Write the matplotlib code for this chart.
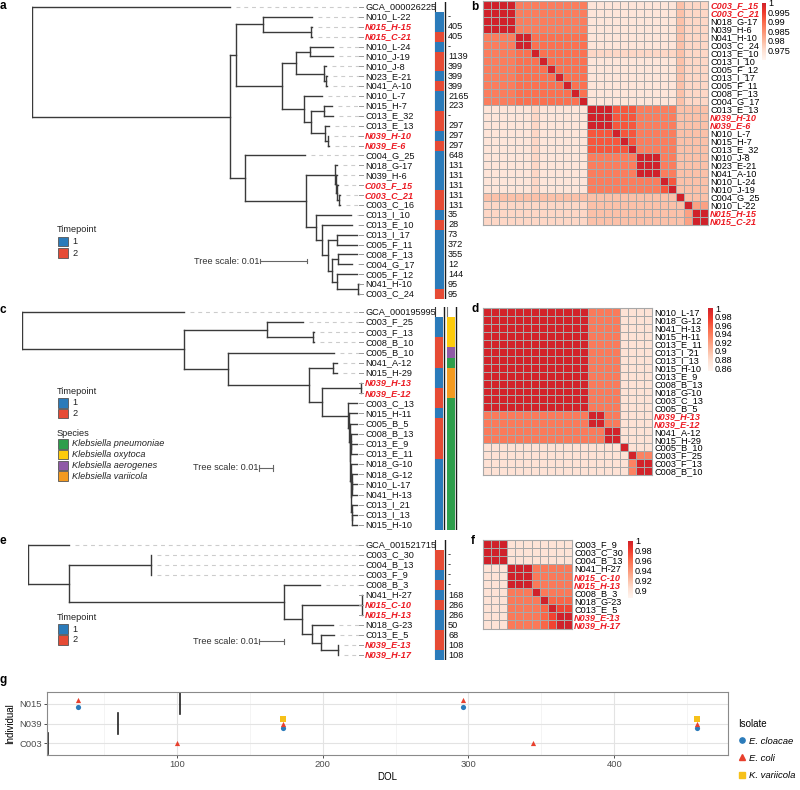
import numpy as np
import matplotlib
matplotlib.use('Agg')
import matplotlib.pyplot as plt
from matplotlib.collections import LineCollection
from matplotlib.colors import LinearSegmentedColormap
from matplotlib.patches import Rectangle
from matplotlib.lines import Line2D
from matplotlib.ticker import FuncFormatter

plt.rcParams['font.family'] = ['Liberation Sans', 'DejaVu Sans']

# ======================= DATA =======================
# Trees (branch lengths in units of 0.001 substitutions/site)
newick_a = ("(GCA_000026225:42.1,(((N010_L-22:10.4,(N015_H-15:0.1,N015_C-21:0.1):10.2):5.7,"
            "(((N010_L-24:4.9,N010_J-19:4.9):3.0,(N010_J-8:0.4,(N023_E-21:0.2,N041_A-10:0.3):0.4):6.0):3.0,"
            "(N010_L-7:3.8,((N015_H-7:1.7,C013_E_32:1.9):2.8,(C013_E_13:0.8,(N039_H-10:0.1,N039_E-6:0.2):0.6):3.0):1.5):4.7):9.6):1.3,"
            "(C004_G_25:12.6,((N018_G-17:0.4,(N039_H-6:0.3,(C003_F_15:0.3,(C003_C_21:0.1,C003_C_16:0.1):0.5):0.2):0.3):6.2,"
            "(C013_I_10:7.4,(C013_E_10:6.4,((C013_I_17:4.3,C005_F_11:4.3):1.9,((C008_F_13:4.0,C004_G_17:3.0):1.3,"
            "(C005_F_12:4.3,(N041_H-10:0.2,C003_C_24:0.2):4.5):1.1):0.9):1.3):1.1):2.3):12.8):3.2):42.2);")
tp_a = [1, 1, 2, 1, 2, 2, 1, 2, 1, 1, 2, 2, 1, 2, 1, 1, 1, 1, 2, 2, 1, 2, 1, 1, 1, 1, 1, 1, 2]
num_a = ['-', '405', '405', '-', '1139', '399', '399', '399', '2165', '223', '-', '297', '297', '297',
         '648', '131', '131', '131', '131', '131', '35', '28', '73', '372', '355', '12', '144', '95', '95']
hl_a = ['N015_H-15', 'N015_C-21', 'N039_H-10', 'N039_E-6', 'C003_F_15', 'C003_C_21']

newick_c = ("(GCA_000195995:116,((C003_F_25:26,(C003_F_13:0.5,C008_B_10:0.5):33):59,(C005_B_10:76,"
            "((N041_A-12:3,N015_H-29:3):17,((N039_H-13:0.3,N039_E-12:0.3):28,(C003_C_13:6.4,(N015_H-11:5.7,"
            "(C005_B_5:5.0,((C008_B_13:4.5,(C013_E_9:4.3,C013_E_11:4.3):0.2):0.3,(N018_G-10:4.3,"
            "((N018_G-12:3.6,(N010_L-17:3.5,N041_H-13:3.5):0.1):0.7,(C013_I_21:4.0,(C013_I_13:3.9,N015_H-10:3.9):0.1):0.3)"
            ":0.2):0.3):0.2):0.7):0.7):19):9):58):31):116);")
tp_c = [1, 1, 2, 2, 2, 1, 1, 2, 2, 1, 2, 2, 2, 2, 1, 1, 1, 1, 1, 1, 1]
species_names = ['Klebsiella pneumoniae', 'Klebsiella oxytoca', 'Klebsiella aerogenes', 'Klebsiella variicola']
sp_c = ['Klebsiella oxytoca', 'Klebsiella oxytoca', 'Klebsiella oxytoca', 'Klebsiella aerogenes',
        'Klebsiella pneumoniae', 'Klebsiella variicola', 'Klebsiella variicola', 'Klebsiella variicola'] + \
       ['Klebsiella pneumoniae'] * 13
hl_c = ['N039_H-13', 'N039_E-12']

newick_e = ("(GCA_001521715:16.4,((C003_C_30:0,C004_B_13:0,C003_F_9:0):32.8,(C008_B_3:14.4,"
            "((N041_H-27:0,N015_C-10:0,N015_H-13:0):24,(N018_G-23:8.4,(C013_E_5:5.2,(N039_E-13:0,N039_H-17:0):6.8):3.6):4)"
            ":7.2):86):16.4);")
tp_e = [2, 2, 1, 2, 1, 2, 1, 1, 2, 2, 1]
num_e = ['-', '-', '-', '-', '168', '286', '286', '50', '68', '108', '108']
hl_e = ['N015_C-10', 'N015_H-13', 'N039_E-13', 'N039_H-17']

# Heatmaps (identity matrices, coded by level)
hm_b_labels = ['C003_F_15', 'C003_C_21', 'N018_G-17', 'N039_H-6', 'N041_H-10', 'C003_C_24', 'C013_E_10',
               'C013_I_10', 'C005_F_12', 'C013_I_17', 'C005_F_11', 'C008_F_13', 'C004_G_17', 'C013_E_13',
               'N039_H-10', 'N039_E-6', 'N010_L-7', 'N015_H-7', 'C013_E_32', 'N010_J-8', 'N023_E-21',
               'N041_A-10', 'N010_L-24', 'N010_J-19', 'C004_G_25', 'N010_L-22', 'N015_H-15', 'N015_C-21']
hm_b_levels = {'D': 1.0, 'K': 0.992, 'M': 0.989, 'm': 0.9875, 'h': 0.983, 'p': 0.979, 'r': 0.976, 'l': 0.9735}
hm_b_rows = [
    "DDDD mm m mmmmmm lll l ll lll ll p r rr",
    "DDDD mm m mmmmmm lll l ll lll ll p r rr",
    "DDDD mm m mmmmmm lll l ll lll ll p r rr",
    "DDDD mm m mmmmmm lll l ll lll ll p r rr",
    "mmmm DD M MMMMMM lll l ll lll ll p r rr",
    "mmmm DD M MMMMMM lll l ll lll ll p r rr",
    "mmmm MM D MMMMMM rrr r rr rrr rr p r rr",
    "mmmm MM M DMMMMM lll l ll lll ll p r rr",
    "mmmm MM M MDMMMM lll l ll lll ll p r rr",
    "mmmm MM M MMDMMM lll l ll lll ll p r rr",
    "mmmm MM M MMMDMM lll l ll lll ll p r rr",
    "mmmm MM M MMMMDM lll l ll lll ll p r rr",
    "mmmm MM M MMMMMD lll l ll lll ll p r rr",
    "llll ll r llllll DDD K KK mmm mm p p pp",
    "llll ll r llllll DDD K KK mmm mm p p pp",
    "llll ll r llllll DDD K KK mmm mm p p pp",
    "llll ll r llllll KKK D KK mmm mm p p pp",
    "llll ll r llllll KKK K DK mmm mm p p pp",
    "llll ll r llllll KKK K KD mmm mm p p pp",
    "llll ll r llllll mmm m mm DDD mm p p pp",
    "llll ll r llllll mmm m mm DDD mm p p pp",
    "llll ll r llllll mmm m mm DDD mm p p pp",
    "llll ll r llllll mmm m mm mmm DK p p pp",
    "llll ll r llllll mmm m mm mmm KD p p pp",
    "pppp pp p pppppp ppp p pp ppp pp D p pp",
    "rrrr rr r rrrrrr ppp p pp ppp pp p D hh",
    "rrrr rr r rrrrrr ppp p pp ppp pp p h DD",
    "rrrr rr r rrrrrr ppp p pp ppp pp p h DD",
]
hm_b_range = (0.9697, 1.0)
hm_b_ticks = [0.975, 0.98, 0.985, 0.99, 0.995, 1.0]

hm_d_labels = ['N010_L-17', 'N018_G-12', 'N041_H-13', 'N015_H-11', 'C013_E_11', 'C013_I_21', 'C013_I_13',
               'N015_H-10', 'C013_E_9', 'C008_B_13', 'N018_G-10', 'C003_C_13', 'C005_B_5', 'N039_H-13',
               'N039_E-12', 'N041_A-12', 'N015_H-29', 'C005_B_10', 'C003_F_25', 'C003_F_13', 'C008_B_10']
hm_d_levels = {'D': 0.998, 'm': 0.941, 'h': 0.936, 'l': 0.875}
hm_d_rows = [
    "DDDDDDDDDDDDD mm mm l l ll",
    "DDDDDDDDDDDDD mm mm l l ll",
    "DDDDDDDDDDDDD mm mm l l ll",
    "DDDDDDDDDDDDD mm mm l l ll",
    "DDDDDDDDDDDDD mm mm l l ll",
    "DDDDDDDDDDDDD mm mm l l ll",
    "DDDDDDDDDDDDD mm mm l l ll",
    "DDDDDDDDDDDDD mm mm l l ll",
    "DDDDDDDDDDDDD mm mm l l ll",
    "DDDDDDDDDDDDD mm mm l l ll",
    "DDDDDDDDDDDDD mm mm l l ll",
    "DDDDDDDDDDDDD mm mm l l ll",
    "DDDDDDDDDDDDD mm mm l l ll",
    "mmmmmmmmmmmmm DD mm l l ll",
    "mmmmmmmmmmmmm DD mm l l ll",
    "mmmmmmmmmmmmm mm DD l l ll",
    "mmmmmmmmmmmmm mm DD l l ll",
    "lllllllllllll ll ll D l ll",
    "lllllllllllll ll ll l D hh",
    "lllllllllllll ll ll l h DD",
    "lllllllllllll ll ll l h DD",
]
hm_d_range = (0.853, 1.0)
hm_d_ticks = [0.86, 0.88, 0.9, 0.92, 0.94, 0.96, 0.98, 1.0]

hm_f_labels = ['C003_F_9', 'C003_C_30', 'C004_B_13', 'N041_H-27', 'N015_C-10', 'N015_H-13', 'C008_B_3',
               'N018_G-23', 'C013_E_5', 'N039_E-13', 'N039_H-17']
hm_f_levels = {'D': 1.0, 'J': 0.977, 'K': 0.963, 'm': 0.954, 'l': 0.901}
hm_f_rows = [
    "DDD lll l l l l l",
    "DDD lll l l l l l",
    "DDD lll l l l l l",
    "lll DDD m m m m m",
    "lll DDD m m m m m",
    "lll DDD m m m m m",
    "lll mmm D m m m m",
    "lll mmm m D K K K",
    "lll mmm m K D J J",
    "lll mmm m K J D D",
    "lll mmm m K J D D",
]
hm_f_range = (0.884, 1.0)
hm_f_ticks = [0.9, 0.92, 0.94, 0.96, 0.98, 1.0]

# Panel g
g_individuals = ['C003', 'N039', 'N015']
g_ind = ['N015', 'N015', 'N015', 'N015', 'N039', 'N039', 'N039', 'N039', 'N039', 'N039', 'C003', 'C003']
g_dol = [32, 32, 296, 296, 173, 173, 173, 457, 457, 457, 100, 344]
g_iso = ['E. cloacae', 'E. coli', 'E. cloacae', 'E. coli', 'E. cloacae', 'E. coli', 'K. variicola',
         'E. cloacae', 'E. coli', 'K. variicola', 'E. coli', 'E. coli']
g_line_ind = ['N015', 'N039', 'C003']
g_line_dol = [102, 60, 12]
isolates = ['E. cloacae', 'E. coli', 'K. variicola']

# ======================= STYLE =======================
TP_COLORS = {1: '#2b7bba', 2: '#e64b35'}
SP_COLORS = {'Klebsiella pneumoniae': '#2e9e4c', 'Klebsiella oxytoca': '#fdcb0c',
             'Klebsiella aerogenes': '#8f5aa6', 'Klebsiella variicola': '#f39a20'}
ISO_STYLE = {'E. cloacae': ('o', '#2b7bba'), 'E. coli': ('^', '#e8402d'), 'K. variicola': ('s', '#f6c11a')}
HL_COLOR = '#ec1c24'
REDS = LinearSegmentedColormap.from_list(
    'reds', ['#FFF5F0', '#FEE0D2', '#FCBBA1', '#FC9272', '#FB6A4A', '#EF3B2C', '#D0212A'])
FS = 6.6

W, H = 800, 790
fig = plt.figure(figsize=(W / 100, H / 100), dpi=100)


def px_rect(x0, y0, x1, y1):
    return [x0 / W, 1 - y1 / H, (x1 - x0) / W, (y1 - y0) / H]


# ======================= TREE HELPERS =======================
def parse_newick(s):
    s = ''.join(s.split()).rstrip(';')
    pos = 0

    def node():
        nonlocal pos
        n = {'children': [], 'name': '', 'bl': 0.0}
        if s[pos] == '(':
            pos += 1
            while True:
                n['children'].append(node())
                if s[pos] == ',':
                    pos += 1
                else:
                    pos += 1
                    break
        st = pos
        while pos < len(s) and s[pos] not in ':,()':
            pos += 1
        n['name'] = s[st:pos]
        if pos < len(s) and s[pos] == ':':
            pos += 1
            st = pos
            while pos < len(s) and s[pos] not in ',()':
                pos += 1
            n['bl'] = float(s[st:pos])
        return n
    return node()


def layout(root):
    leaves = []

    def rec(n, x):
        n['x'] = x
        if not n['children']:
            n['y'] = len(leaves)
            leaves.append(n)
        else:
            for c in n['children']:
                rec(c, x + c['bl'])
            n['y'] = (n['children'][0]['y'] + n['children'][-1]['y']) / 2
    rec(root, 0.0)
    return leaves


def tree_segments(root):
    segs = []

    def rec(n):
        if n['children']:
            ys = [c['y'] for c in n['children']]
            segs.append([(n['x'], min(ys)), (n['x'], max(ys))])
            for c in n['children']:
                segs.append([(n['x'], c['y']), (c['x'], c['y'])])
                rec(c)
    rec(root)
    return segs


LABEL_X = 364


def tree_panel(newick, root_px, ppu, y_top, spacing, tps, highlight, numbers=None, species=None,
               scale_y_px=None, scale_x_px=259):
    root = parse_newick(newick)
    leaves = layout(root)
    n = len(leaves)
    y0 = y_top - spacing / 2
    y1 = y_top + (n - 0.5) * spacing
    ax = fig.add_axes(px_rect(root_px, y0, LABEL_X, y1))
    xmax = (LABEL_X - root_px) / ppu
    ax.set_xlim(0, xmax)
    ax.set_ylim(n - 0.5, -0.5)
    ax.axis('off')
    ax.add_collection(LineCollection(tree_segments(root), colors='#3a3a3a', linewidths=1.0,
                                     capstyle='projecting'))
    dash_end = (LABEL_X - 5 - root_px) / ppu
    for lf in leaves:
        xs = lf['x'] + 6 / ppu
        if xs < dash_end:
            ax.plot([xs, dash_end], [lf['y'], lf['y']], color='#cccccc', lw=0.8, dashes=(3.5, 3.5))
        ax.plot([dash_end, (LABEL_X - 0.5 - root_px) / ppu], [lf['y'], lf['y']], color='#999999', lw=0.7)
    # scale bar
    if scale_y_px is not None:
        sy = (scale_y_px - y_top) / spacing
        sx = (scale_x_px - root_px) / ppu
        ax.plot([sx, sx + 10], [sy, sy], color='#666666', lw=0.8)
        ax.plot([sx, sx], [sy - 0.25, sy + 0.25], color='#666666', lw=0.8)
        ax.plot([sx + 10, sx + 10], [sy - 0.25, sy + 0.25], color='#666666', lw=0.8)
        ax.text(sx - 0.3 / ppu, sy, 'Tree scale: 0.01', ha='right', va='center', fontsize=FS, color='#333333')

    an = fig.add_axes(px_rect(LABEL_X, y0, 470, y1))
    an.set_xlim(LABEL_X, 470)
    an.set_ylim(n - 0.5, -0.5)
    an.axis('off')
    for lf in leaves:
        if lf['name'] in highlight:
            an.text(LABEL_X + 1, lf['y'], lf['name'], ha='left', va='center', fontsize=FS,
                    color=HL_COLOR, fontweight='bold', fontstyle='italic')
        else:
            an.text(LABEL_X + 1, lf['y'], lf['name'], ha='left', va='center', fontsize=FS, color='#111111')
    rows = [lf['y'] for lf in leaves[1:]]
    an.barh(rows, 9 if species is None else 8, left=435, height=1.0,
            color=[TP_COLORS[t] for t in tps], linewidth=0)
    an.plot([434.6, 434.6], [-0.5, n - 0.5], color='#333333', lw=0.8, zorder=0)
    if species is None:
        an.plot([444.5, 444.5], [-0.5, n - 0.5], color='#1a1a1a', lw=1.0)
    else:
        an.plot([443.5, 443.5], [-0.5, n - 0.5], color='#1a1a1a', lw=1.0)
        an.barh(rows, 8, left=447, height=1.0, color=[SP_COLORS[s] for s in species], linewidth=0)
        an.plot([446.6, 446.6], [-0.5, n - 0.5], color='#777777', lw=0.8, zorder=0)
        an.plot([455.5, 455.5], [-0.5, n - 0.5], color='#1a1a1a', lw=1.0)
    if numbers is not None:
        for r, t in zip(rows, numbers):
            an.text(448, r, t, ha='left', va='center', fontsize=FS, color='#111111')
    return ax


tree_panel(newick_a, 32, 4.7, 7, 9.9, tp_a, hl_a, numbers=num_a, scale_y_px=261, scale_x_px=260)
tree_panel(newick_c, 22, 1.4, 312, 10.14, tp_c, hl_c, species=sp_c, scale_y_px=468, scale_x_px=259)
tree_panel(newick_e, 28, 2.5, 545, 10.0, tp_e, hl_e, numbers=num_e, scale_y_px=641, scale_x_px=259)


# ======================= HEATMAPS =======================
def heatmap(rect_px, labels, rows, levels, vrange, ticks, highlight, cbar_px):
    mat = np.array([[levels[ch] for ch in r.replace(' ', '')] for r in rows])
    n = len(labels)
    ax = fig.add_axes(px_rect(*rect_px))
    mesh = ax.pcolormesh(mat, cmap=REDS, vmin=vrange[0], vmax=vrange[1],
                         edgecolors='#a8a8a8', linewidth=0.6)
    ax.set_xlim(0, n)
    ax.set_ylim(n, 0)
    ax.set_xticks([])
    ax.set_yticks(np.arange(n) + 0.5)
    ax.set_yticklabels(labels, fontsize=FS)
    ax.yaxis.tick_right()
    ax.tick_params(axis='y', length=0, pad=1.5)
    for tl in ax.get_yticklabels():
        if tl.get_text() in highlight:
            tl.set_color(HL_COLOR)
            tl.set_fontweight('bold')
            tl.set_fontstyle('italic')
    for sp in ax.spines.values():
        sp.set_color('#a8a8a8')
        sp.set_linewidth(0.8)
    cax = fig.add_axes(px_rect(*cbar_px))
    cb = fig.colorbar(mesh, cax=cax, ticks=ticks)
    cb.outline.set_visible(False)
    cax.tick_params(length=0, labelsize=FS, pad=1.5)
    cax.yaxis.set_major_formatter(FuncFormatter(lambda v, p: f'{v:g}'))
    return ax


heatmap((483, 1, 708, 225), hm_b_labels, hm_b_rows, hm_b_levels, hm_b_range, hm_b_ticks, hl_a,
        (762, 3, 766, 60))
heatmap((483, 308, 652, 475), hm_d_labels, hm_d_rows, hm_d_levels, hm_d_range, hm_d_ticks, hl_c,
        (708, 308, 713, 371))
heatmap((483, 540, 572, 628.5), hm_f_labels, hm_f_rows, hm_f_levels, hm_f_range, hm_f_ticks, hl_e,
        (628, 541, 633, 598))

# ======================= PANEL G =======================
ax_g = fig.add_axes(px_rect(47, 692, 728, 755))
ycat = {k: i + 1 for i, k in enumerate(g_individuals)}
ax_g.set_xlim(11, 478)
ax_g.set_ylim(0.42, 3.58)
ax_g.set_xticks([100, 200, 300, 400])
ax_g.set_xticks([50, 150, 250, 350, 450], minor=True)
ax_g.set_yticks([1, 2, 3])
ax_g.set_yticklabels(g_individuals)
ax_g.grid(which='major', color='#e3e3e3', lw=0.8)
ax_g.grid(which='minor', axis='x', color='#f0f0f0', lw=0.5)
ax_g.set_axisbelow(True)
ax_g.tick_params(axis='both', which='major', labelsize=FS + 0.2, labelcolor='#4d4d4d', color='#333333',
                 length=2, width=0.6, pad=1.5)
ax_g.tick_params(axis='both', which='minor', length=0)
for sp in ax_g.spines.values():
    sp.set_color('#8a8a8a')
    sp.set_linewidth(0.8)
for ind, d in zip(g_line_ind, g_line_dol):
    ax_g.plot([d, d], [ycat[ind] - 0.53, ycat[ind] + 0.53], color='#222222', lw=1.2)
# dodge points within each (individual, DOL) group
groups = {}
for ind, d, iso in zip(g_ind, g_dol, g_iso):
    groups.setdefault((ind, d), []).append(iso)
dodge_w = 0.65
for (ind, d), isos in groups.items():
    isos = sorted(isos, key=isolates.index)
    k = len(isos)
    for i, iso in enumerate(isos):
        off = (i - (k - 1) / 2) * dodge_w / k if k > 1 else 0.0
        m, c = ISO_STYLE[iso]
        ax_g.scatter([d], [ycat[ind] + off], marker=m, color=c, s=14, linewidths=0, zorder=3)
ax_g.set_xlabel('DOL', fontsize=FS + 0.4, labelpad=2)
ax_g.set_ylabel('Individual', fontsize=FS + 0.4, labelpad=3)
handles = [Line2D([], [], marker=ISO_STYLE[i][0], color=ISO_STYLE[i][1], ls='', markersize=3.8) for i in isolates]
leg = ax_g.legend(handles, isolates, title='Isolate', loc='upper left',
                  bbox_to_anchor=(733 / W, 1 - 714 / H), bbox_transform=fig.transFigure,
                  frameon=False, prop={'style': 'italic', 'size': FS + 0.2}, title_fontsize=FS + 0.4,
                  handletextpad=0.2, labelspacing=0.85, borderpad=0, handlelength=1.0, alignment='left')

# ======================= OVERLAY: legends & panel letters =======================
ov = fig.add_axes([0, 0, 1, 1])
ov.set_xlim(0, W)
ov.set_ylim(H, 0)
ov.axis('off')


def box_legend(x, y_title, title, labels, colors, step, italic=False):
    ov.text(x, y_title, title, fontsize=FS, va='center', ha='left', color='#222222')
    for i, (lab, col) in enumerate(zip(labels, colors)):
        yc = y_title + step * (i + 1)
        ov.add_patch(Rectangle((x + 1, yc - 4.8), 10, 9.6, facecolor=col, edgecolor='#555555', lw=0.6))
        ov.text(x + 15, yc, lab, fontsize=FS, va='center', ha='left', color='#222222',
                fontstyle='italic' if italic else 'normal')


tp_labels = ['1', '2']
tp_cols = [TP_COLORS[1], TP_COLORS[2]]
box_legend(57, 230, 'Timepoint', tp_labels, tp_cols, 11.5)
box_legend(57, 392, 'Timepoint', tp_labels, tp_cols, 10.8)
box_legend(57, 433, 'Species', species_names, [SP_COLORS[s] for s in species_names], 10.8, italic=True)
box_legend(57, 618, 'Timepoint', tp_labels, tp_cols, 11.0)

for lab, x, y in [('a', 0, 6), ('b', 471, 7), ('c', 0, 310), ('d', 471, 309), ('e', 0, 541),
                  ('f', 471, 541), ('g', 0, 680)]:
    ov.text(x, y, lab, fontsize=8.5, fontweight='bold', va='center', ha='left')

fig.savefig('out.png', dpi=100)
